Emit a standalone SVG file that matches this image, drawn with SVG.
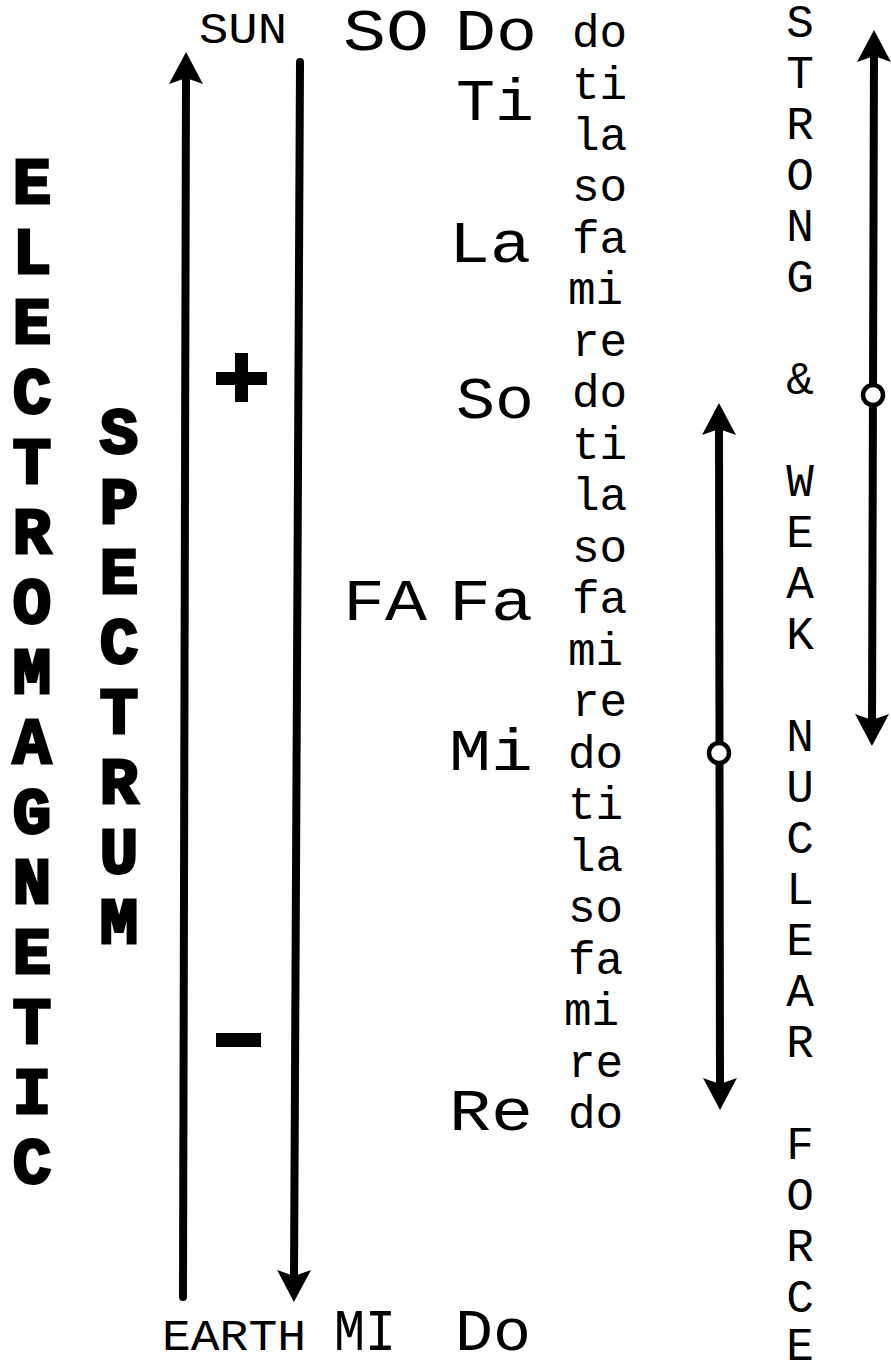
<svg xmlns="http://www.w3.org/2000/svg" width="891" height="1365" viewBox="0 0 891 1365">
<style>
.bg{fill:#fff}
.bold{font-family:"Liberation Mono","Courier New",monospace;font-weight:bold;font-size:64px;fill:#000;stroke:#000;stroke-width:3;stroke-linejoin:miter;text-anchor:middle}
.lab{font-family:"Liberation Mono","Courier New",monospace;font-size:44px;fill:#000}
.big{font-family:"Liberation Mono","Courier New",monospace;font-size:60px;fill:#000}
.sm{font-family:"Liberation Mono","Courier New",monospace;font-size:46px;fill:#000}
.rt{font-family:"Liberation Mono","Courier New",monospace;font-size:46px;fill:#000;text-anchor:middle}
.shaft{stroke:#000;stroke-width:8;fill:none;stroke-linecap:round}
.dot{fill:#fff;stroke:#000;stroke-width:4.5}
</style>
<defs>
<marker id="ah" viewBox="-14 -19 38 38" refX="0" refY="0" markerWidth="38" markerHeight="38" markerUnits="userSpaceOnUse" orient="auto-start-reverse">
<path d="M22,0 L-10,-17 L-4,0 L-10,17 Z" fill="#000"/>
</marker>
</defs>
<rect class="bg" x="0" y="0" width="891" height="1365"/>
<g id="electromagnetic">
<text class="bold" x="32" y="203">E</text>
<text class="bold" x="32" y="273">L</text>
<text class="bold" x="32" y="343">E</text>
<text class="bold" x="32" y="413">C</text>
<text class="bold" x="32" y="483">T</text>
<text class="bold" x="32" y="553">R</text>
<text class="bold" x="32" y="623">O</text>
<text class="bold" x="32" y="693">M</text>
<text class="bold" x="32" y="763">A</text>
<text class="bold" x="32" y="833">G</text>
<text class="bold" x="32" y="903">N</text>
<text class="bold" x="32" y="973">E</text>
<text class="bold" x="32" y="1043">T</text>
<text class="bold" x="32" y="1113">I</text>
<text class="bold" x="32" y="1183">C</text>
</g>
<g id="spectrum">
<text class="bold" x="119" y="453">S</text>
<text class="bold" x="119" y="523">P</text>
<text class="bold" x="119" y="593">E</text>
<text class="bold" x="119" y="663">C</text>
<text class="bold" x="119" y="733">T</text>
<text class="bold" x="119" y="803">R</text>
<text class="bold" x="119" y="873">U</text>
<text class="bold" x="119" y="943">M</text>
</g>
<g id="signs">
<rect x="216" y="372" width="51" height="13" fill="#000"/>
<rect x="235" y="353" width="13" height="49" fill="#000"/>
<rect x="216" y="1033" width="45" height="14" fill="#000"/>
</g>
<g id="labels">
<text class="lab" x="199" y="43" textLength="88" lengthAdjust="spacingAndGlyphs">SUN</text>
<text class="lab" x="162" y="1350" textLength="144" lengthAdjust="spacingAndGlyphs">EARTH</text>
</g>
<g id="big-notes">
<text class="big" x="343" y="50" textLength="86" lengthAdjust="spacingAndGlyphs">SO</text>
<text class="big" x="455" y="50" textLength="82" lengthAdjust="spacingAndGlyphs">Do</text>
<text class="big" x="456" y="120" textLength="78" lengthAdjust="spacingAndGlyphs">Ti</text>
<text class="big" x="449" y="262" textLength="82" lengthAdjust="spacingAndGlyphs">La</text>
<text class="big" x="456" y="418" textLength="78" lengthAdjust="spacingAndGlyphs">So</text>
<text class="big" x="343" y="620" textLength="84" lengthAdjust="spacingAndGlyphs">FA</text>
<text class="big" x="449" y="620" textLength="84" lengthAdjust="spacingAndGlyphs">Fa</text>
<text class="big" x="449" y="770" textLength="84" lengthAdjust="spacingAndGlyphs">Mi</text>
<text class="big" x="449" y="1130" textLength="84" lengthAdjust="spacingAndGlyphs">Re</text>
<text class="big" x="334" y="1350" textLength="62" lengthAdjust="spacingAndGlyphs">MI</text>
<text class="big" x="455" y="1350" textLength="76" lengthAdjust="spacingAndGlyphs">Do</text>
</g>
<g id="small-notes">
<text class="sm" x="572" y="47">do</text>
<text class="sm" x="572" y="99">ti</text>
<text class="sm" x="572" y="150">la</text>
<text class="sm" x="572" y="201">so</text>
<text class="sm" x="572" y="253">fa</text>
<text class="sm" x="568" y="304">mi</text>
<text class="sm" x="572" y="356">re</text>
<text class="sm" x="572" y="407">do</text>
<text class="sm" x="572" y="459">ti</text>
<text class="sm" x="572" y="510">la</text>
<text class="sm" x="572" y="562">so</text>
<text class="sm" x="572" y="613">fa</text>
<text class="sm" x="568" y="665">mi</text>
<text class="sm" x="572" y="716">re</text>
<text class="sm" x="568" y="768">do</text>
<text class="sm" x="568" y="819">ti</text>
<text class="sm" x="568" y="871">la</text>
<text class="sm" x="568" y="922">so</text>
<text class="sm" x="568" y="974">fa</text>
<text class="sm" x="564" y="1025">mi</text>
<text class="sm" x="568" y="1077">re</text>
<text class="sm" x="568" y="1128">do</text>
</g>
<g id="force">
<text class="rt" x="800" y="37">S</text>
<text class="rt" x="800" y="88">T</text>
<text class="rt" x="800" y="139">R</text>
<text class="rt" x="800" y="190">O</text>
<text class="rt" x="800" y="241">N</text>
<text class="rt" x="800" y="292">G</text>
<text class="rt" x="800" y="394">&amp;</text>
<text class="rt" x="800" y="496">W</text>
<text class="rt" x="800" y="547">E</text>
<text class="rt" x="800" y="598">A</text>
<text class="rt" x="800" y="649">K</text>
<text class="rt" x="800" y="751">N</text>
<text class="rt" x="800" y="802">U</text>
<text class="rt" x="800" y="853">C</text>
<text class="rt" x="800" y="904">L</text>
<text class="rt" x="800" y="955">E</text>
<text class="rt" x="800" y="1006">A</text>
<text class="rt" x="800" y="1057">R</text>
<text class="rt" x="800" y="1159">F</text>
<text class="rt" x="800" y="1210">O</text>
<text class="rt" x="800" y="1261">R</text>
<text class="rt" x="800" y="1312">C</text>
<text class="rt" x="800" y="1360">E</text>
</g>
<g id="connectors">
<line class="shaft" x1="183" y1="1297" x2="186" y2="74" marker-end="url(#ah)"/>
<line class="shaft" x1="300" y1="62" x2="294" y2="1280" marker-end="url(#ah)"/>
<line class="shaft" x1="874" y1="52" x2="872" y2="724" marker-start="url(#ah)" marker-end="url(#ah)"/>
<line class="shaft" x1="719" y1="425" x2="720" y2="1088" marker-start="url(#ah)" marker-end="url(#ah)"/>
<circle class="dot" cx="873" cy="395" r="10"/>
<circle class="dot" cx="719" cy="753" r="10"/>
</g>
</svg>
